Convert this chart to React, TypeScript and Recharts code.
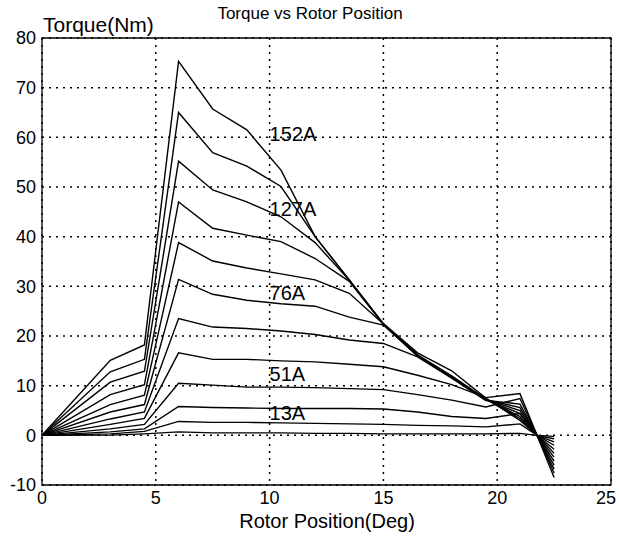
import { LineChart, Line, XAxis, YAxis, CartesianGrid, ReferenceArea, ReferenceDot } from 'recharts'

// rotor position samples (deg)
const rotorPosition = [0, 3, 4.5, 6, 7.5, 9, 10.5, 12, 13.5, 15, 16.5, 18, 19.5, 21, 21.75, 22.5]

// phase currents (A), one curve each
const currents = [152, 140, 127, 114, 102, 89, 76, 63, 51, 38, 25, 13]

// torque (Nm)
const torque152 = [0, 15.1, 18.2, 75.3, 65.7, 61.5, 53.4, 40.0, 31.3, 22.5, 16.6, 13.0, 7.5, 3.0, 0, -8.5]
const torque140 = [0, 12.8, 15.3, 65.0, 56.9, 54.2, 50.1, 40.0, 31.3, 22.4, 16.2, 12.0, 7.3, 3.4, 0, -7.6]
const torque127 = [0, 10.7, 12.9, 55.2, 49.4, 47.0, 44.0, 38.8, 31.2, 22.4, 16.1, 11.8, 7.3, 3.8, 0, -6.8]
const torque114 = [0, 8.2, 10.2, 47.0, 41.7, 40.3, 39.0, 35.6, 31.0, 22.3, 16.0, 11.8, 7.2, 4.4, 0, -6.0]
const torque102 = [0, 6.2, 8.1, 38.8, 35.1, 33.7, 32.5, 31.3, 28.6, 22.4, 16.0, 11.7, 7.2, 5.0, 0, -5.2]
const torque89 = [0, 4.7, 6.2, 31.4, 28.4, 27.2, 26.5, 26.0, 23.8, 22.2, 16.0, 11.6, 7.2, 5.6, 0, -4.4]
const torque76 = [0, 3.3, 4.7, 23.5, 21.8, 21.5, 21.0, 20.3, 19.2, 18.5, 15.8, 11.5, 7.0, 6.3, 0, -3.6]
const torque63 = [0, 2.2, 3.4, 16.6, 15.3, 15.3, 15.0, 14.8, 14.3, 13.8, 12.1, 10.2, 7.6, 8.4, 0, -2.8]
const torque51 = [0, 1.3, 2.2, 10.5, 10.1, 9.7, 9.7, 9.6, 9.4, 9.2, 8.2, 7.1, 5.7, 7.4, 0, -2.0]
const torque38 = [0, 0.7, 1.3, 5.8, 5.6, 5.5, 5.4, 5.4, 5.4, 5.3, 4.7, 3.8, 3.4, 4.4, 0, -1.3]
const torque25 = [0, 0.3, 0.8, 2.8, 2.6, 2.6, 2.5, 2.4, 2.3, 2.2, 2.0, 1.9, 1.7, 2.3, 0, -0.7]
const torque13 = [0, 0.05, 0.3, 0.7, 0.5, 0.5, 0.5, 0.4, 0.4, 0.3, 0.3, 0.3, 0.3, 0.4, 0, -0.2]

const torqueSeries = [
  torque152, torque140, torque127, torque114, torque102, torque89,
  torque76, torque63, torque51, torque38, torque25, torque13,
]

const xTicks = [0, 5, 10, 15, 20, 25]
const yTicks = [-10, 0, 10, 20, 30, 40, 50, 60, 70, 80]

// curve annotations: text and anchor (data coords)
const curveLabelText = ['152A', '127A', '76A', '51A', '13A']
const curveLabelX = [10, 10, 10, 10, 10]
const curveLabelY = [60.6, 45.6, 28.7, 12.4, 4.5]

const FONT = '"Liberation Sans", Arial, sans-serif'

const rows = rotorPosition.map((pos, i) => {
  const row: Record<string, number> = { pos }
  currents.forEach((c, k) => {
    row[`i${c}`] = torqueSeries[k][i]
  })
  return row
})

// x tick: pull the last label in a little so it stays on the page
const XTick = (props: any) => {
  const { x, y, payload } = props
  const shift = payload.value === 25 ? -5 : 0
  return (
    <text x={x + shift} y={y} dy="0.71em" textAnchor="middle" fill="#000" fontSize={18} fontFamily={FONT}>
      {payload.value}
    </text>
  )
}

export default function App() {
  return (
    <div style={{ position: 'absolute', left: 0, top: 0, width: 619, height: 543, background: '#fff', fontFamily: FONT }}>
      <div style={{ position: 'absolute', left: 0, width: 620, top: 5, fontSize: 17, lineHeight: 1, textAlign: 'center', color: '#000' }}>
        Torque vs Rotor Position
      </div>
      <div style={{ position: 'absolute', left: 43, top: 14, fontSize: 21, lineHeight: 1, color: '#000' }}>
        Torque(Nm)
      </div>
      <div style={{ position: 'absolute', left: 0, width: 654, top: 511, fontSize: 20, lineHeight: 1, textAlign: 'center', color: '#000' }}>
        Rotor Position(Deg)
      </div>
      <LineChart width={619} height={543} data={rows} margin={{ top: 38, right: 8, bottom: 28, left: 2 }}>
        <CartesianGrid stroke="#000" strokeDasharray="2 5" strokeWidth={1.5} />
        <XAxis
          dataKey="pos"
          type="number"
          domain={[0, 25]}
          ticks={xTicks}
          interval={0}
          height={30}
          axisLine={false}
          tickLine={false}
          tickSize={0}
          tickMargin={6}
          tick={<XTick />}
        />
        <YAxis
          type="number"
          domain={[-10, 80]}
          ticks={yTicks}
          interval={0}
          width={40}
          axisLine={false}
          tickLine={false}
          tickSize={0}
          tickMargin={6}
          tick={{ fill: '#000', fontSize: 18, fontFamily: FONT }}
        />
        <ReferenceArea x1={0} x2={25} y1={-10} y2={80} fill="none" stroke="#000" strokeWidth={1.3} />
        {currents.map((c) => (
          <Line
            key={c}
            dataKey={`i${c}`}
            type="linear"
            stroke="#000"
            strokeWidth={1.4}
            dot={false}
            activeDot={false}
            isAnimationActive={false}
          />
        ))}
        {curveLabelText.map((t, i) => (
          <ReferenceDot
            key={t}
            x={curveLabelX[i]}
            y={curveLabelY[i]}
            r={0}
            fill="none"
            stroke="none"
            label={{ value: t, position: 'right', offset: 0, fill: '#000', fontSize: 20, fontFamily: FONT }}
          />
        ))}
      </LineChart>
    </div>
  )
}
